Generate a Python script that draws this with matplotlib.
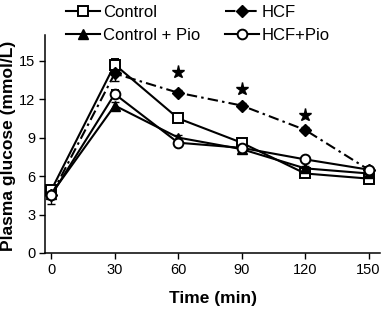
import numpy as np
import matplotlib.pyplot as plt

plt.rcParams['font.family'] = ['Liberation Sans', 'DejaVu Sans']

time = [0, 30, 60, 90, 120, 150]

control = [4.9, 14.7, 10.5, 8.6, 6.2, 5.8]
control_err = [0.3, 0.4, 0.2, 0.2, 0.2, 0.2]
hcf = [4.5, 14.0, 12.5, 11.5, 9.6, 6.5]
hcf_err = [0.7, 0.6, 0.2, 0.2, 0.2, 0.2]
control_pio = [4.6, 11.5, 9.0, 8.1, 6.6, 6.2]
control_pio_err = [0.3, 0.3, 0.2, 0.2, 0.2, 0.2]
hcf_pio = [4.5, 12.4, 8.6, 8.2, 7.3, 6.5]
hcf_pio_err = [0.3, 0.3, 0.2, 0.2, 0.2, 0.2]

star_x = [60, 90, 120]
star_y = [14.1, 12.8, 10.8]

fig = plt.figure(figsize=(3.84, 3.10), dpi=100)
ax = fig.add_axes([0.117, 0.184, 0.873, 0.703])

kw = dict(color='black', lw=1.5, capsize=3, elinewidth=1.0)

l1 = ax.errorbar(time, control, yerr=control_err, marker='s', mfc='white',
                 mec='black', mew=1.4, ls='-', markersize=7, **kw)
l2 = ax.errorbar(time, hcf, yerr=hcf_err, marker='D', mfc='black',
                 ls=(0, (5, 2, 1.2, 2)), markersize=6, **kw)
l3 = ax.errorbar(time, control_pio, yerr=control_pio_err, marker='^',
                 mfc='black', ls='-', markersize=7.5, **kw)
l4 = ax.errorbar(time, hcf_pio, yerr=hcf_pio_err, marker='o', mfc='white',
                 mec='black', mew=1.4, ls='-', markersize=7, **kw)

# significance stars
ax.plot(star_x, star_y, ls='none', marker='*', color='black', markersize=9.5)

ax.set_xlim(-3, 155.5)
ax.set_ylim(0, 17)
ax.set_xticks([0, 30, 60, 90, 120, 150])
ax.set_yticks([0, 3, 6, 9, 12, 15])
ax.tick_params(labelsize=10.5, length=4.5, width=1, direction='out', pad=2.5)
for side in ['top', 'right']:
    ax.spines[side].set_visible(False)
for side in ['left', 'bottom']:
    ax.spines[side].set_linewidth(1.1)

ax.set_xlabel('Time (min)', fontsize=12.5, fontweight='bold', labelpad=10)
ax.set_ylabel('Plasma glucose (mmol/L)', fontsize=12.5, fontweight='bold')
ax.yaxis.set_label_coords(-0.087, 0.49)

handles = [l1[0], l3[0], l2[0], l4[0]]
labels = ['Control', 'Control + Pio', 'HCF', 'HCF+Pio']
fig.legend(handles, labels, loc='upper left', bbox_to_anchor=(0.173, 0.985),
           ncol=2, frameon=False, fontsize=12, handlelength=2.0,
           handletextpad=0.2, columnspacing=1.5, labelspacing=0.5,
           borderpad=0.0, borderaxespad=0.0)

fig.savefig('out.png', dpi=100)
